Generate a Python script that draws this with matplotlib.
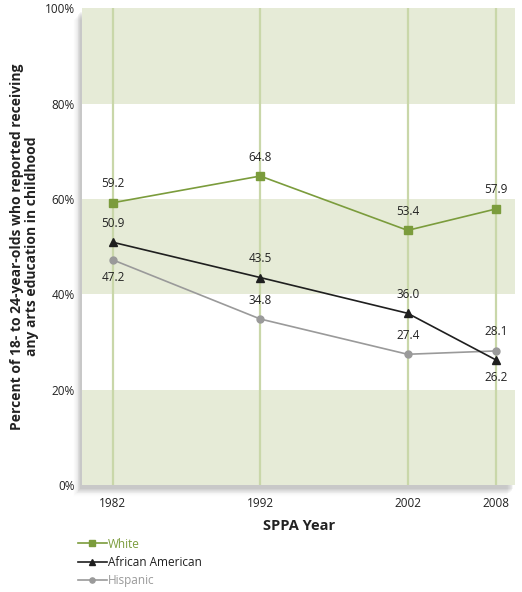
import matplotlib.pyplot as plt
import matplotlib.patches as mpatches

plt.rcParams['font.family'] = ['Open Sans', 'DejaVu Sans']

years = [1982, 1992, 2002, 2008]
white = [59.2, 64.8, 53.4, 57.9]
african_american = [50.9, 43.5, 36.0, 26.2]
hispanic = [47.2, 34.8, 27.4, 28.1]
y_ticks = [0, 20, 40, 60, 80, 100]

green = '#7b9c3c'
band = '#e6ebd7'
grid = '#c9d7a9'

fig = plt.figure(figsize=(5.22, 5.92), dpi=100)
ax = fig.add_axes([0.157, 0.181, 0.830, 0.805])

# soft drop shadow on left and bottom of the panel
for i in range(10):
    a = 0.04 * (10 - i) / 10
    sh = mpatches.Rectangle((0.157 - 0.004 - i * 0.0015, 0.181 - 0.007 - i * 0.0015),
                            0.830, 0.805, transform=fig.transFigure,
                            facecolor='black', alpha=a, edgecolor='none', zorder=-5)
    fig.patches.append(sh)

ax.set_facecolor('white')
ax.set_xlim(1979.9, 2009.3)
ax.set_ylim(0, 100)

for lo in (0, 40, 80):
    ax.axhspan(lo, lo + 20, color=band, lw=0, zorder=0)
for yr in years:
    ax.axvline(yr, color=grid, lw=1.6, zorder=1)

ax.plot(years, white, color=green, marker='s', ms=6, lw=1.2, zorder=4, label='White')
ax.plot(years, african_american, color='#1f1f1f', marker='^', ms=6, lw=1.2, zorder=4,
        label='African American')
ax.plot(years, hispanic, color='#9a9a9a', marker='o', ms=5, lw=1.2, zorder=3, label='Hispanic')

lab = dict(ha='center', fontsize=8.5, color='#222222', zorder=5)
for x, v in zip(years, white):
    ax.annotate(f'{v:.1f}', (x, v), xytext=(0, 9), textcoords='offset points', va='bottom', **lab)
for x, v in zip(years, african_american):
    off = -8 if x == 2008 else 9
    ax.annotate(f'{v:.1f}', (x, v), xytext=(0, off), textcoords='offset points',
                va='top' if off < 0 else 'bottom', **lab)
for x, v in zip(years, hispanic):
    off = -8 if x == 1982 else 9
    ax.annotate(f'{v:.1f}', (x, v), xytext=(0, off), textcoords='offset points',
                va='top' if off < 0 else 'bottom', **lab)

for s in ax.spines.values():
    s.set_visible(False)
ax.set_xticks(years)
ax.set_xticklabels([str(y) for y in years], fontsize=8.5, color='#222222')
ax.set_yticks(y_ticks)
ax.set_yticklabels([f'{t}%' for t in y_ticks], fontsize=8.5, color='#222222')
ax.tick_params(length=0, pad=5)
ax.tick_params(axis='x', pad=9)

ax.set_xlabel('SPPA Year', fontsize=10.5, fontweight='bold', color='#222222', labelpad=6)
fig.text(0.047, 0.181 + 0.805 / 2,
         'Percent of 18- to 24-year-olds who reported receiving\nany arts education in childhood',
         rotation=90, ha='center', va='center', fontsize=10, fontweight='bold',
         color='#222222', linespacing=1.05)

leg = fig.legend(loc='upper left', bbox_to_anchor=(0.150, 0.092), frameon=False,
                 fontsize=8.5, handlelength=2.4, handletextpad=0.1, labelspacing=0.45,
                 borderaxespad=0, borderpad=0, markerscale=0.75)
for txt, c in zip(leg.get_texts(), [green, '#1f1f1f', '#9a9a9a']):
    txt.set_color(c)

fig.savefig('out.png', dpi=100)
